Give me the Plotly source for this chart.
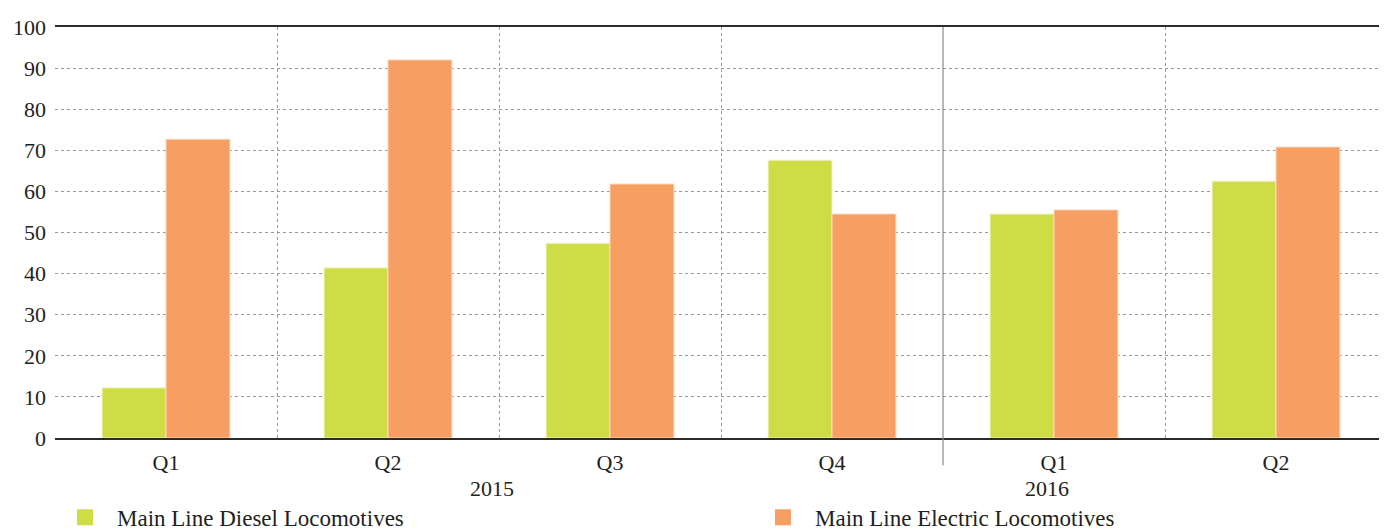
import plotly.graph_objects as go

quarters = ["Q1", "Q2", "Q3", "Q4", "Q1", "Q2"]
years = ["2015", "2016"]
diesel = [12.2, 41.4, 47.4, 67.6, 54.5, 62.5]
electric = [72.7, 92.0, 61.8, 54.5, 55.5, 70.8]
series_names = ["Main Line Diesel Locomotives", "Main Line Electric Locomotives"]

FONT = "Liberation Serif"
TXT = "#231f20"
GREEN = "#CEDC45"
ORANGE = "#F79F62"
GRID = "#9a9a9a"
FS = 22

xs = list(range(len(quarters)))

fig = go.Figure()
fig.add_trace(go.Bar(x=xs, y=diesel, name=series_names[0], showlegend=False,
                     marker=dict(color=GREEN, line=dict(color="#f2f5d0", width=1))))
fig.add_trace(go.Bar(x=xs, y=electric, name=series_names[1], showlegend=False,
                     marker=dict(color=ORANGE, line=dict(color="#fbd9c0", width=1))))
# legend entries (square symbols)
fig.add_trace(go.Scatter(x=[None], y=[None], mode="markers", name=series_names[0],
                         marker=dict(symbol="square", size=24, color=GREEN), legend="legend"))
fig.add_trace(go.Scatter(x=[None], y=[None], mode="markers", name=series_names[1],
                         marker=dict(symbol="square", size=24, color=ORANGE), legend="legend2"))

leg_common = dict(orientation="h", yanchor="middle", y=-0.193, xanchor="left",
                  font=dict(family=FONT, size=23, color=TXT), itemwidth=54,
                  bgcolor="rgba(0,0,0,0)", itemsizing="trace")

fig.update_layout(
    width=1379, height=524,
    margin=dict(l=47, r=0, t=19, b=94, autoexpand=False),
    paper_bgcolor="white", plot_bgcolor="white",
    barmode="group", bargap=0.424, bargroupgap=0,
    font=dict(family=FONT, size=FS, color=TXT),
    showlegend=True,
    legend=dict(x=-0.0015, **leg_common),
    legend2=dict(x=0.5225, **leg_common),
)

fig.update_xaxes(
    range=[-0.5, 5.5], automargin=False,
    tickmode="array", tickvals=xs, ticktext=quarters,
    showgrid=False, ticks="", ticklabelstandoff=4,
    showline=True, linecolor="#2b2b2b", linewidth=1.5, mirror=True,
    zeroline=False,
    minor=dict(tickmode="array", tickvals=[0.5, 1.5, 2.5, 4.5], showgrid=True,
               gridcolor=GRID, griddash="dot", gridwidth=1, ticks=""),
)
fig.update_yaxes(
    range=[0, 100], tickmode="linear", tick0=0, dtick=10, automargin=False,
    showgrid=True, gridcolor=GRID, griddash="dot", gridwidth=1,
    zeroline=False, showline=False, ticks="", ticklabelstandoff=8,
)

# year divider
fig.add_shape(type="line", xref="x", yref="paper", x0=3.5, x1=3.5, y0=-0.066, y1=1,
              line=dict(color="#8a8a8a", width=1.2))

fig.add_annotation(x=1.47, y=-0.122, xref="x", yref="paper", text=years[0],
                   showarrow=False, yanchor="middle", font=dict(family=FONT, size=FS, color=TXT))
fig.add_annotation(x=3.97, y=-0.122, xref="x", yref="paper", text=years[1],
                   showarrow=False, yanchor="middle", font=dict(family=FONT, size=FS, color=TXT))

fig.write_html("out.html")
